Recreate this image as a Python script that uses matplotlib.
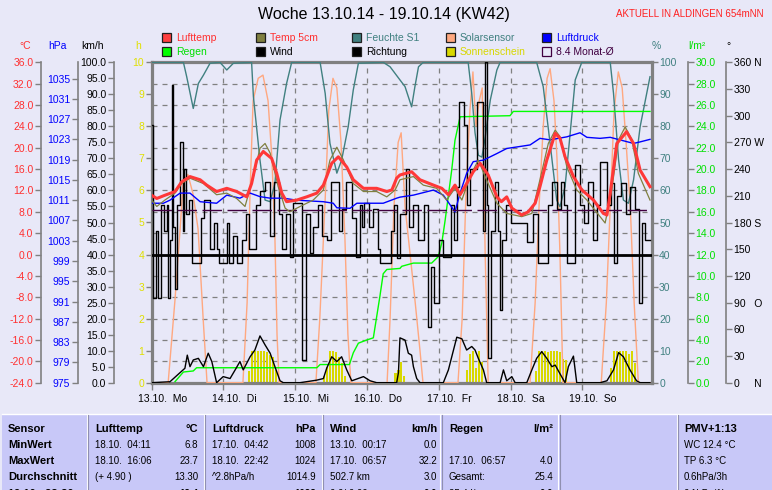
import matplotlib
matplotlib.use("Agg")
import matplotlib.pyplot as plt
import matplotlib.transforms as mtransforms
from matplotlib.patches import Rectangle
from matplotlib.lines import Line2D
import numpy as np

plt.rcParams['font.family'] = ['Liberation Sans', 'DejaVu Sans']

# Zeit in Stunden ab 13.10.2014 00:00
tage = ["13.10.  Mo", "14.10.  Di", "15.10.  Mi", "16.10.  Do",
        "17.10.  Fr", "18.10.  Sa", "19.10.  So"]

t_luft = [0, 1.7, 4.4, 7.8, 10.0, 12.8, 16.2, 18.4, 21.7, 25.1, 28.4, 31.8, 33.4, 35.1, 37.3,
          40.1, 41.8, 43.5, 45.1, 48.5, 51.8, 55.2, 57.4, 60.2, 62.4, 65.2, 67.4, 70.8, 75.2,
          78.6, 80.3, 81.9, 83.0, 86.9, 89.7, 94.2, 97.0, 99.2, 101.4, 103.1, 105.3, 107.5,
          109.8, 112.5, 115.4, 116.9, 118.7, 120.4, 123.7, 125.9, 128.2, 129.8, 132.1, 134.9,
          136.5, 138.2, 141.0, 143.8, 147.7, 151.0, 152.2, 153.3, 155.5, 158.8, 161.1, 163.3,
          166.6]
lufttemp = [11.1, 10.5, 11.1, 11.8, 13.6, 14.6, 14.0, 13.0, 11.8, 12.4, 11.8, 10.8, 13.3, 17.7,
            19.3, 18.0, 15.2, 11.5, 9.9, 10.2, 10.8, 11.5, 13.0, 17.1, 18.3, 16.4, 14.0, 12.4,
            12.4, 11.8, 12.1, 14.3, 14.9, 15.5, 14.0, 13.0, 12.4, 11.2, 13.0, 11.2, 13.3, 15.5,
            17.1, 14.9, 10.8, 9.9, 10.8, 8.7, 7.4, 8.0, 9.6, 12.7, 17.7, 22.7, 21.8, 18.3,
            14.6, 12.1, 10.2, 7.7, 7.4, 11.5, 20.8, 23.0, 20.8, 15.8, 12.7]

t_5cm = [0, 1.7, 4.4, 7.8, 10.0, 12.8, 17.3, 21.7, 25.1, 28.4, 31.2, 34.0, 36.2, 37.9, 39.6,
         42.3, 44.6, 46.2, 49.6, 54.0, 57.4, 59.6, 61.9, 64.1, 67.4, 70.8, 75.2, 78.6, 81.4,
         83.0, 87.5, 90.8, 95.3, 98.6, 101.4, 103.7, 106.4, 109.2, 112.0, 115.4, 118.7, 123.7,
         127.1, 129.8, 132.6, 134.9, 136.5, 138.8, 142.1, 145.5, 149.9, 151.6, 153.8, 156.1,
         158.3, 160.5, 162.7, 166.6]
temp_5cm = [10.2, 9.0, 10.2, 11.5, 13.3, 14.3, 13.3, 11.2, 11.5, 10.5, 9.0, 14.6, 19.9, 20.8,
            19.0, 12.7, 8.7, 8.0, 9.0, 10.2, 12.1, 17.7, 20.1, 17.7, 13.3, 11.8, 11.8, 10.8,
            12.1, 14.0, 14.6, 13.0, 12.4, 10.2, 12.4, 10.2, 14.6, 17.7, 13.9, 9.6, 7.7, 7.1,
            7.7, 14.0, 20.8, 23.3, 22.1, 16.4, 12.1, 10.2, 7.1, 5.9, 12.1, 21.5, 23.9, 21.5,
            15.2, 10.2]

t_druck = [0, 3.9, 6.1, 9.5, 12.8, 16.2, 21.7, 25.1, 29.5, 32.9, 36.2, 39.6, 44.0, 48.5, 57.4,
           60.7, 61.9, 66.3, 68.6, 77.4, 81.9, 83.0, 87.5, 94.2, 97.5, 101.4, 103.1, 105.3,
           107.5, 110.9, 115.4, 118.7, 123.2, 126.5, 129.8, 133.2, 138.8, 143.2, 145.5, 149.9,
           153.3, 161.1, 163.3, 166.6]
luftdruck = [1010.4, 1010.4, 1011.0, 1012.4, 1012.4, 1010.7, 1010.4, 1012.0, 1011.4, 1012.4,
             1011.7, 1011.4, 1011.4, 1011.0, 1010.7, 1010.4, 1009.5, 1009.4, 1010.4, 1010.4,
             1011.4, 1011.6, 1012.0, 1013.0, 1012.0, 1008.7, 1012.4, 1016.3, 1018.6, 1018.9,
             1020.2, 1021.2, 1021.6, 1021.9, 1023.2, 1022.9, 1023.5, 1024.3, 1023.4, 1023.2,
             1023.4, 1022.2, 1022.5, 1023.0]

t_feuchte = [0, 10.6, 11.7, 13.9, 15.6, 17.3, 19.5, 22.8, 25.1, 27.3, 33.4, 34.0, 36.2, 37.9,
             39.6, 41.2, 42.9, 45.1, 46.8, 56.3, 58.0, 59.6, 61.9, 63.5, 65.7, 67.4, 69.1,
             77.4, 79.7, 83.0, 84.7, 86.9, 88.0, 89.2, 90.8, 105.8, 107.0, 108.1, 109.2, 110.4,
             111.5, 113.2, 115.4, 116.5, 128.7, 130.9, 133.2, 135.4, 136.5, 138.2, 139.9, 141.6,
             143.8, 153.3, 154.4, 156.1, 157.7, 159.4, 161.1, 163.3, 165.5, 166.6]
feuchte = [100, 100, 95.5, 85.6, 93.4, 96.0, 99.7, 100, 97.6, 99.7, 100, 89.3, 69.5, 57.0,
           56.5, 62.2, 82.0, 93.4, 100, 100, 90.3, 74.7, 65.4, 69.5, 79.9, 91.4, 99.7, 100,
           98.6, 94.5, 92.4, 86.1, 92.4, 98.6, 100, 100, 90.3, 78.0, 71.0, 70.4, 76.6, 88.2,
           97.6, 100, 100, 92.4, 74.7, 57.0, 54.9, 61.2, 77.8, 94.5, 100, 100, 90.3, 69.5,
           57.0, 56.0, 63.3, 79.9, 90.3, 95.5]

t_solar = [0, 5.5, 7.8, 9.5, 10.5, 12.1, 13.8, 15.5, 17.2, 18.5,
           30.5, 31.9, 32.9, 33.9, 35.6, 37.2, 38.9, 40.2, 41.2, 41.9, 42.6,
           54.9, 56.2, 57.9, 59.2, 60.6, 61.9, 63.3, 64.6, 65.6, 66.6,
           78.7, 79.7, 81.0, 82.4, 83.4, 84.7, 86.4, 88.1, 89.7, 90.7,
           102.4, 103.8, 105.1, 106.4, 107.4, 108.4, 109.5, 110.5, 111.5, 112.5,
           126.5, 128.2, 129.5, 130.9, 132.2, 133.2, 134.5, 135.5, 136.5, 137.5,
           150.3, 152.0, 153.3, 154.6, 156.0, 157.3, 158.6, 160.0, 161.3, 162.7, 166.6]
solar = [0, 0, 26, 48, 62, 65, 59, 48, 20, 0,
         0, 25, 60, 88, 95, 96, 88, 70, 45, 15, 0,
         0, 20, 55, 85, 95, 92, 75, 45, 15, 0,
         0, 20, 55, 75, 78, 55, 40, 25, 10, 0,
         0, 20, 60, 85, 97, 80, 88, 92, 40, 0,
         0, 25, 55, 80, 95, 98, 88, 70, 40, 0,
         0, 25, 55, 85, 97, 92, 75, 55, 25, 0, 0]

t_regen = [7.8, 10.6, 13.9, 15.0, 55.2, 56.3, 66.1, 67.4, 69.1, 71.9, 74.1, 76.3, 77.4, 78.6,
           83.0, 83.6, 87.5, 93.6, 95.8, 97.0, 98.1, 100.3, 101.4, 103.1, 119.8, 120.9, 166.6]
regen = [0.1, 1.0, 1.1, 1.4, 1.4, 1.7, 1.7, 2.8, 3.7, 4.0, 4.2, 8.1, 10.2, 10.6, 10.7, 10.9,
         11.2, 11.2, 11.8, 13.1, 15.2, 19.9, 22.7, 24.9, 25.0, 25.4, 25.4]

t_wind = [0, 6.1, 11.1, 11.9, 12.8, 13.9, 15.6, 17.3, 18.9, 20.1, 21.7, 23.9, 26.2, 27.9, 29.5,
          30.6, 32.9, 34.5, 36.2, 37.9, 39.6, 41.2, 42.9, 44.0, 49.6, 55.2, 57.4, 58.5, 60.2,
          61.9, 63.5, 65.2, 66.9, 70.8, 73.0, 75.2, 81.9, 82.5, 83.0, 84.7, 85.8, 86.9, 87.5,
          88.6, 89.7, 97.5, 99.2, 100.9, 102.0, 103.7, 105.3, 107.0, 108.1, 109.2, 110.9,
          112.0, 116.5, 117.6, 118.7, 120.4, 121.5, 125.4, 127.1, 128.7, 130.4, 132.1, 133.8,
          134.9, 136.5, 138.2, 139.3, 141.0, 142.1, 149.9, 152.2, 154.4, 156.1, 157.7, 159.9,
          162.1, 163.3, 166.6]
wind = [0, 0.3, 4.5, 8.6, 5.0, 7.1, 7.6, 5.0, 9.2, 6.6, 0, 1.9, 1.3, 4.0, 6.6, 4.0, 8.1, 10.2,
        14.6, 11.8, 9.2, 5.0, 0.6, 0, 0, 0.8, 1.3, 4.5, 8.1, 6.6, 8.1, 4.0, 0.6, 1.9, 0.6, 0, 0,
        3.2, 14.0, 13.3, 9.2, 8.6, 5.0, 1.3, 0, 0, 4.0, 10.2, 14.2, 13.7, 10.2, 11.3, 10.2, 7.6,
        4.0, 0, 0, 4.0, 0.6, 1.9, 0, 0, 4.0, 7.6, 9.7, 7.6, 5.0, 5.5, 2.8, 0, 5.0, 8.3, 0, 0,
        0.6, 4.0, 9.4, 8.1, 4.0, 0.6, 0, 0]

t_richtung = [0.0, 0.4, 1.5, 2.2, 3.0, 4.0, 5.0, 5.5, 6.2, 6.7, 7.1, 7.8, 8.6, 9.6, 10.4, 10.9,
              11.6, 12.4, 13.6, 16.6, 17.4, 19.6, 20.8, 21.7, 22.6,
              25.2, 26.0, 27.2, 28.4, 30.2, 31.5, 32.6, 35.0, 36.2, 38.0, 39.5, 41.0, 42.5,
              43.5, 45.0, 46.2, 47.2, 50.3, 51.5, 52.8, 54.0, 55.5,
              57.0, 58.5, 60.0, 62.5, 63.5, 65.0, 67.0, 68.4, 69.5, 70.2, 71.0, 72.5, 74.0, 75.5,
              76.3, 80.0, 81.0, 82.0, 83.0, 85.0, 86.0, 87.5, 89.0, 91.0, 92.3, 93.5, 94.3,
              96.0, 97.5,
              100.0, 101.0, 102.0, 102.8, 104.5, 105.5, 106.5, 108.7, 110.8, 111.3, 112.0,
              112.6, 113.5, 114.8, 115.8, 116.3, 117.0, 118.5,
              120.0, 125.5, 127.5, 129.0, 132.5, 134.0, 135.5, 137.0, 138.0, 139.0, 141.5,
              143.3,
              144.5, 146.0, 147.5, 149.0, 150.0, 152.3, 153.5, 154.4, 155.6, 157.0, 158.5,
              160.0, 161.5, 163.0, 164.0, 165.0, 166.6]
richtung = [290, 95, 170, 95, 200, 170, 200, 95, 160, 335, 175, 105, 200, 270, 170, 240,
            190, 205, 135, 185, 205, 150, 180, 150, 135,
            180, 135, 165, 135, 160, 190, 150, 200, 215, 225, 165, 225, 190,
            150, 190, 141, 202, 25, 190, 146, 175, 200,
            165, 160, 225, 170, 195, 226, 185, 141, 200, 175, 202, 175, 195, 150,
            134, 170, 200, 140, 190, 240, 175, 200, 160, 200, 63, 130, 90,
            160, 141,
            200, 160, 220, 315, 290, 200, 240, 315, 170, 360, 200,
            28, 170, 226, 170, 82, 160, 200,
            180, 158, 190, 135, 200, 225, 195, 225, 200, 135, 245,
            200,
            180, 225, 160, 200, 248, 200, 224, 135, 210, 224, 190,
            220, 195, 90, 180, 160, 160]

# Sonnenscheindauer je Stunde (Stundenindex, h)
h_sonne = list(range(32, 42)) + list(range(57, 65)) + list(range(81, 85)) + \
    list(range(105, 111)) + list(range(128, 139)) + list(range(153, 162))
sonne = [0.35, 1.0, 1.0, 1.0, 1.0, 1.0, 0.95, 0.85, 0.8, 0.4,
         0.2, 0.5, 1.0, 1.0, 0.95, 0.8, 0.6, 0.2,
         0.3, 0.4, 0.65, 0.2,
         0.4, 0.9, 1.0, 0.45, 1.0, 0.65,
         0.35, 1.0, 1.0, 1.0, 0.95, 1.0, 1.0, 1.0, 0.95, 0.75, 0.7,
         0.45, 1.0, 1.0, 1.0, 1.0, 1.0, 0.9, 1.0, 0.6]

monat_mittel = 8.4
null_grad = 0.0

# Tabelle unten
tab_sensor = ["Sensor", "MinWert", "MaxWert", "Durchschnitt", "19.10.  23:30"]
tab_luft = [("Lufttemp", "°C"), ("18.10.  04:11", "6.8"), ("18.10.  16:06", "23.7"),
            ("(+ 4.90 )", "13.30"), ("", "12.4")]
tab_druck = [("Luftdruck", "hPa"), ("17.10.  04:42", "1008"), ("18.10.  22:42", "1024"),
             ("^2.8hPa/h", "1014.9"), ("", "1023")]
tab_wind = [("Wind", "km/h"), ("13.10.  00:17", "0.0"), ("17.10.  06:57", "32.2"),
            ("502.7 km", "3.0"), ("0.0/ 0:00", "0.0")]
tab_regen = [("Regen", "l/m²"), ("", ""), ("17.10.  06:57", "4.0"), ("Gesamt:", "25.4"),
             ("25.4 l/m²", "0.0")]
tab_pmv = ["PMV+1:13", "WC 12.4 °C", "TP 6.3 °C", "0.6hPa/3h", "0.1hPa/1h"]

BG = '#E8E8F8'
GRAU = '#808080'
ROT = '#FF3030'
GRUEN = '#00E000'
GELB = '#D8D800'
TEAL = '#408080'

B, H = 772, 490
def fx(x):
    return x / B
def fy(y):
    return 1 - y / H

fig = plt.figure(figsize=(B / 100, H / 100), dpi=100)
fig.patch.set_facecolor(BG)

links, rechts, oben, unten = 151.7, 651.5, 62.3, 382.7
ax = fig.add_axes([fx(links), fy(unten), fx(rechts - links), (unten - oben) / H])
ax.set_facecolor(BG)
ax.set_xlim(0, 167.1)
ax.set_ylim(0, 10)
for s in ax.spines.values():
    s.set_color(GRAU)
    s.set_linewidth(2.3)

# Raster
for k in range(1, 15):
    ax.axhline(k * 10 / 15, color=GRAU, lw=0.9, ls=(0, (4, 4)), zorder=0.5)
tage_pos = np.arange(len(tage)) * 24
for d in tage_pos[1:]:
    ax.axvline(d, color=GRAU, lw=0.9, ls=(0, (4, 4)), zorder=0.5)

ax.bar(np.array(h_sonne) + 0.5, sonne, width=0.7, color=GELB, zorder=2)

ax.set_yticks(range(0, 11))
ax.tick_params(axis='y', colors=GRAU, labelcolor='#E0E000', length=4, width=1,
               labelsize=7.5, pad=1.5)
ax.set_xticks(tage_pos)
ax.set_xticklabels(tage)
ax.tick_params(axis='x', colors=GRAU, labelcolor='black', length=5, width=1,
               labelsize=7.5, pad=3)
off = mtransforms.ScaledTranslation(10.5 / 100, 0, fig.dpi_scale_trans)
for lbl in ax.get_xticklabels():
    lbl.set_transform(lbl.get_transform() + off)


def achse(seite, versatz, lo, hi, ticks, labels, farbe, linie=True):
    a = ax.twinx()
    a.set_ylim(lo, hi)
    for s in a.spines.values():
        s.set_visible(False)
    sp = a.spines[seite]
    sp.set_visible(linie)
    sp.set_position(('outward', versatz))
    sp.set_color(GRAU)
    sp.set_linewidth(1.2)
    if seite == 'left':
        a.yaxis.tick_left()
    else:
        a.yaxis.tick_right()
    a.set_yticks(ticks)
    a.set_yticklabels(labels)
    a.tick_params(axis='y', colors=GRAU, labelcolor=farbe, length=4, width=1,
                  labelsize=7.5, pad=1.5)
    return a


pct_ticks = list(range(0, 101, 10))
ax_pct = achse('right', 0, 0, 100, pct_ticks, [str(v) for v in pct_ticks], TEAL, linie=False)
ax_pct.plot(t_solar, solar, color='#FFA880', lw=1.0)
ax_pct.plot(t_feuchte, feuchte, color=TEAL, lw=1.0)

rg_ticks = np.arange(0, 31, 2)
ax_rg = achse('right', 26.3, 0, 30, rg_ticks, ['%.1f' % v for v in rg_ticks], GRUEN)
ax_rg.plot(t_regen, regen, color='#00FF00', lw=1.0)

km_ticks = np.arange(0, 101, 5)
ax_km = achse('left', 27.1, 0, 100, km_ticks, ['%.1f' % v for v in km_ticks], 'black')
ax_km.plot(t_wind, wind, color='black', lw=1.0)

dir_ticks = list(range(0, 361, 30))
dir_lbl = ["0     N", "30", "60", "90   O", "120", "150", "180 S", "210", "240", "270 W",
           "300", "330", "360 N"]
ax_dir = achse('right', 53.6, 0, 360, dir_ticks, dir_lbl, 'black')
ax_dir.plot(t_richtung, richtung, color='black', lw=1.0, drawstyle='steps-post')

hpa_ticks = list(range(975, 1036, 4))
ax_hpa = achse('left', 53.1, 975, 1038.2, hpa_ticks, [str(v) for v in hpa_ticks], '#0000FF')
ax_hpa.plot(t_druck, luftdruck, color='#0000FF', lw=1.0)

c_ticks = np.arange(-24, 37, 4)
ax_c = achse('left', 79.7, -24, 36, c_ticks, ['%.1f' % v for v in c_ticks], ROT)
ax_c.axhline(null_grad, color='black', lw=2.0)
ax_c.axhline(monat_mittel, color='#400040', lw=1.0, ls=(0, (14, 4)))
ax_c.plot(t_5cm, temp_5cm, color='#808040', lw=0.9)
ax_c.plot(t_luft, lufttemp, color='#FF3838', lw=2.2)

# Titel und Einheiten
fig.text(fx(384), fy(15), "Woche 13.10.14 - 19.10.14 (KW42)", ha='center', va='center',
         fontsize=11.5, color='black')
fig.text(fx(763), fy(14), "AKTUELL IN ALDINGEN 654mNN", ha='right', va='center',
         fontsize=7, color='#FF2020')
for x, t, c in [(25, "°C", ROT), (57, "hPa", '#0000FF'), (92, "km/h", 'black'),
                (138, "h", '#E0E000'), (656, "%", TEAL), (697, "l/m²", GRUEN), (728, "°", 'black')]:
    fig.text(fx(x), fy(46), t, ha='center', va='center', fontsize=7.5, color=c)

# Legende
legende = [
    (162, 38, '#FF4040', 'Lufttemp', ROT),
    (162, 52, '#00FF00', 'Regen', GRUEN),
    (256, 38, '#808040', 'Temp 5cm', ROT),
    (256, 52, '#000000', 'Wind', 'black'),
    (352, 38, TEAL, 'Feuchte S1', TEAL),
    (352, 52, '#000000', 'Richtung', 'black'),
    (446, 38, '#FFA880', 'Solarsensor', TEAL),
    (446, 52, GELB, 'Sonnenschein', GELB),
    (542, 38, '#0000FF', 'Luftdruck', '#0000FF'),
    (542, 52, 'none', '%.1f Monat-Ø' % monat_mittel, '#400040'),
]
for x, y, fc, txt, tc in legende:
    ec = '#400040' if fc == 'none' else '#202020'
    fig.add_artist(Rectangle((fx(x), fy(y + 4.5)), 9 / B, 9 / H, transform=fig.transFigure,
                             facecolor=fc, edgecolor=ec, lw=0.9))
    fig.text(fx(x + 14), fy(y), txt, ha='left', va='center', fontsize=7.5, color=tc)

# Tabelle
fig.add_artist(Rectangle((fx(2), 0), 1 - fx(2), fy(414), transform=fig.transFigure,
                         facecolor='#C8C8F8', edgecolor='none'))
fig.add_artist(Line2D([fx(2), 1], [fy(414), fy(414)], transform=fig.transFigure,
                      color='white', lw=1))
for xs in [87.3, 204.5, 322.3, 441, 559, 677.7]:
    fig.add_artist(Line2D([fx(xs - 0.6), fx(xs - 0.6)], [fy(415), 0], transform=fig.transFigure,
                          color='white', lw=0.8))
    fig.add_artist(Line2D([fx(xs + 0.6), fx(xs + 0.6)], [fy(415), 0], transform=fig.transFigure,
                          color='#9090B0', lw=0.8))

zeilen_y = [429, 445, 461, 477, 494]
for i, y in enumerate(zeilen_y):
    fig.text(fx(8), fy(y), tab_sensor[i], ha='left', va='center', fontsize=8,
             fontweight='bold')
    gew = 'bold' if i in (0, 4) else 'normal'
    for (x0, x1), spalte in [((95, 198), tab_luft), ((212, 316), tab_druck),
                             ((330, 437), tab_wind), ((449, 553), tab_regen)]:
        a, b = spalte[i]
        fs = 8 if i == 0 else 7
        fig.text(fx(x0), fy(y), a, ha='left', va='center', fontsize=fs,
                 fontweight='bold' if i == 0 else 'normal')
        fig.text(fx(x1), fy(y), b, ha='right', va='center', fontsize=fs, fontweight=gew)
    fig.text(fx(684), fy(y), tab_pmv[i], ha='left', va='center', fontsize=8 if i == 0 else 7,
             fontweight='bold' if i == 0 else 'normal')

fig.savefig('out.png', dpi=100, facecolor=BG)
